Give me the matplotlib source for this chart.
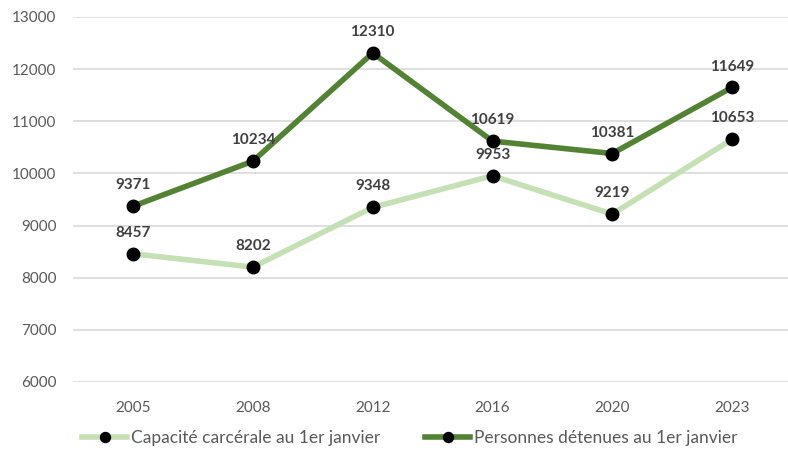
import numpy as np
import matplotlib.pyplot as plt

years = ["2005", "2008", "2012", "2016", "2020", "2023"]
capacite = [8457, 8202, 9348, 9953, 9219, 10653]
detenus = [9371, 10234, 12310, 10619, 10381, 11649]

light = "#c5e0b4"
dark = "#548235"

plt.rcParams["font.family"] = ["Lato", "DejaVu Sans"]

fig = plt.figure(figsize=(7.88, 4.59), dpi=100)
ax = fig.add_axes([0.093, 0.168, 0.912, 0.795])

x = np.arange(len(years))
ax.plot(x, capacite, color=light, lw=4, marker="o", ms=9, mfc="black", mec="black",
        label="Capacité carcérale au 1er janvier", zorder=3)
ax.plot(x, detenus, color=dark, lw=4, marker="o", ms=9, mfc="black", mec="black",
        label="Personnes détenues au 1er janvier", zorder=3)

for xi, v in zip(x, capacite):
    ax.annotate(str(v), (xi, v), xytext=(0, 10), textcoords="offset points",
                ha="center", va="bottom", fontsize=11, fontweight="bold", color="#404040")
for xi, v in zip(x, detenus):
    ax.annotate(str(v), (xi, v), xytext=(0, 10), textcoords="offset points",
                ha="center", va="bottom", fontsize=11, fontweight="bold", color="#404040")

ax.set_xlim(-0.5, len(years) - 0.5)
ax.set_ylim(6000, 13000)
ax.set_yticks(np.arange(6000, 13001, 1000))
ax.set_xticks(x)
ax.set_xticklabels(years)
ax.grid(axis="y", color="#d9d9d9", lw=1.2)
ax.set_axisbelow(True)
for s in ax.spines.values():
    s.set_visible(False)
ax.tick_params(length=0, labelsize=11, labelcolor="#595959", pad=12)
ax.tick_params(axis="x", pad=14)

fig.legend(loc="lower center", bbox_to_anchor=(0.52, -0.005), ncol=2, frameon=False,
           prop={"family": ["Lato", "DejaVu Sans"], "size": 12.5}, labelcolor="#595959",
           handlelength=2.6, handletextpad=0.2, columnspacing=2.6, markerscale=0.8)

fig.savefig("out.png", dpi=100)
